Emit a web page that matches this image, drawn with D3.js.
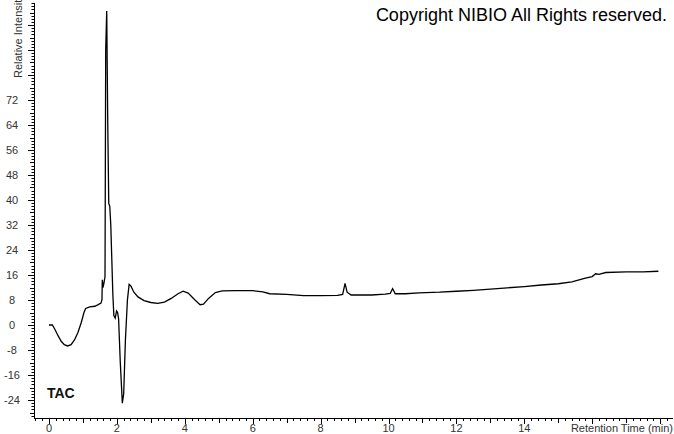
<!DOCTYPE html>
<html><head><meta charset="utf-8">
<script src="https://cdn.jsdelivr.net/npm/d3@7"></script>
<style>
html,body{margin:0;padding:0;background:#fff;}
svg{display:block;}
text{font-family:"Liberation Sans",Arial,sans-serif;}
</style></head>
<body>
<script>
// Retention time (min)
const times = [0.00,0.10,0.18,0.27,0.36,0.45,0.55,0.65,0.75,0.85,0.95,1.03,1.08,1.20,1.35,1.45,1.53,1.56,1.57,1.59,1.62,1.65,1.67,1.70,1.73,1.76,1.79,1.82,1.85,1.88,1.91,1.95,1.99,2.02,2.05,2.10,2.16,2.20,2.25,2.31,2.36,2.41,2.50,2.62,2.80,3.00,3.20,3.40,3.60,3.80,3.95,4.10,4.30,4.45,4.55,4.70,4.90,5.10,5.50,6.00,6.30,6.50,7.00,7.50,8.00,8.50,8.65,8.72,8.78,8.90,9.50,9.90,10.05,10.12,10.20,10.50,10.90,11.50,12.00,12.50,13.00,13.50,14.00,14.50,15.00,15.40,15.80,16.00,16.10,16.20,16.40,17.00,17.50,17.95];
// Relative intensity
const intensity = [0,0,-1.5,-3.5,-5.2,-6.3,-6.7,-6.3,-4.8,-2.5,0.8,4.0,5.3,5.8,6.0,6.5,7.0,8.0,14.5,12.0,13.5,15.5,88,100.5,65,39,38,32,21,10,3,2.2,4.5,4.0,2,-12,-25,-22,-5,8,13,12.5,10.5,9,7.8,7.2,6.9,7.3,8.5,10,10.8,10.2,8.0,6.5,6.7,8.5,10.4,10.9,11.0,11.0,10.6,10.0,9.8,9.4,9.4,9.5,9.8,13.3,10.5,9.6,9.6,9.9,10.1,11.6,10.0,10.0,10.3,10.5,10.8,11.1,11.5,11.9,12.3,12.8,13.2,13.8,15.0,15.5,16.4,16.2,16.8,17.0,17.0,17.2];
const yTickLabels = [-24,-16,-8,0,8,16,24,32,40,48,56,64,72];
const xTickLabels = [0,2,4,6,8,10,12,14];
const traceName = "TAC";
const copyright = "Copyright NIBIO All Rights reserved.";
const xTitle = "Retention Time (min)";
const yTitle = "Relative Intensity";

const W = 674, H = 434;
const svg = d3.select("body").append("svg").attr("width", W).attr("height", H);

const axisX = 34, axisY = 418;
const x = d3.scaleLinear().domain([0, 18]).range([49, 49 + 18 * 33.95]);
const y = d3.scaleLinear().domain([-29.76, 103.04]).range([axisY, 3]);

// y axis
const yMinor = d3.range(-29, 104, 1);
const gY = svg.append("g");
gY.append("line").attr("x1", axisX + 0.5).attr("x2", axisX + 0.5).attr("y1", 3).attr("y2", axisY).attr("stroke", "#000");
gY.selectAll("line.t").data(yMinor).join("line").attr("class", "t")
  .attr("x1", d => axisX - (d % 8 === 0 ? 6 : (d % 4 === 0 ? 4 : 2.5)))
  .attr("x2", axisX)
  .attr("y1", d => Math.round(y(d)) + 0.5).attr("y2", d => Math.round(y(d)) + 0.5)
  .attr("stroke", "#000").attr("stroke-width", 1);
gY.selectAll("text").data(yTickLabels).join("text")
  .attr("x", 12).attr("y", d => y(d) + 4)
  .attr("text-anchor", "middle").attr("font-size", 11).attr("fill", "#333")
  .text(d => d);
svg.append("text").attr("transform", `translate(22,78) rotate(-90)`)
  .attr("font-size", 11).attr("fill", "#333").text(yTitle);

// x axis
const gX = svg.append("g");
gX.append("line").attr("x1", axisX).attr("x2", 673).attr("y1", axisY + 0.5).attr("y2", axisY + 0.5).attr("stroke", "#000");
const xMinor = d3.range(-2, 92, 1).map(i => i / 5);
gX.selectAll("line.t").data(xMinor).join("line").attr("class", "t")
  .attr("x1", d => Math.round(x(d)) + 0.5).attr("x2", d => Math.round(x(d)) + 0.5)
  .attr("y1", axisY)
  .attr("y2", d => { const k = Math.round(d * 5); return axisY + (k % 10 === 0 ? 6 : (k % 5 === 0 ? 5 : 3)); })
  .attr("stroke", "#000");
gX.selectAll("text").data(xTickLabels).join("text")
  .attr("x", d => x(d)).attr("y", axisY + 14)
  .attr("text-anchor", "middle").attr("font-size", 11).attr("fill", "#333")
  .text(d => d);
svg.append("text").attr("x", 673).attr("y", axisY + 14).attr("text-anchor", "end")
  .attr("font-size", 11).attr("fill", "#333").text(xTitle);

// trace
const data = times.map((t, i) => [t, intensity[i]]);
svg.append("path").datum(data)
  .attr("d", d3.line().x(d => x(d[0])).y(d => y(d[1])))
  .attr("fill", "none").attr("stroke", "#000").attr("stroke-width", 1.3);

svg.append("text").attr("x", 47).attr("y", 398).attr("font-size", 14).attr("font-weight", "bold")
  .attr("fill", "#111").text(traceName);
svg.append("text").attr("x", 667).attr("y", 21).attr("text-anchor", "end")
  .attr("font-size", 18).attr("fill", "#000").text(copyright);
</script>
</body></html>
